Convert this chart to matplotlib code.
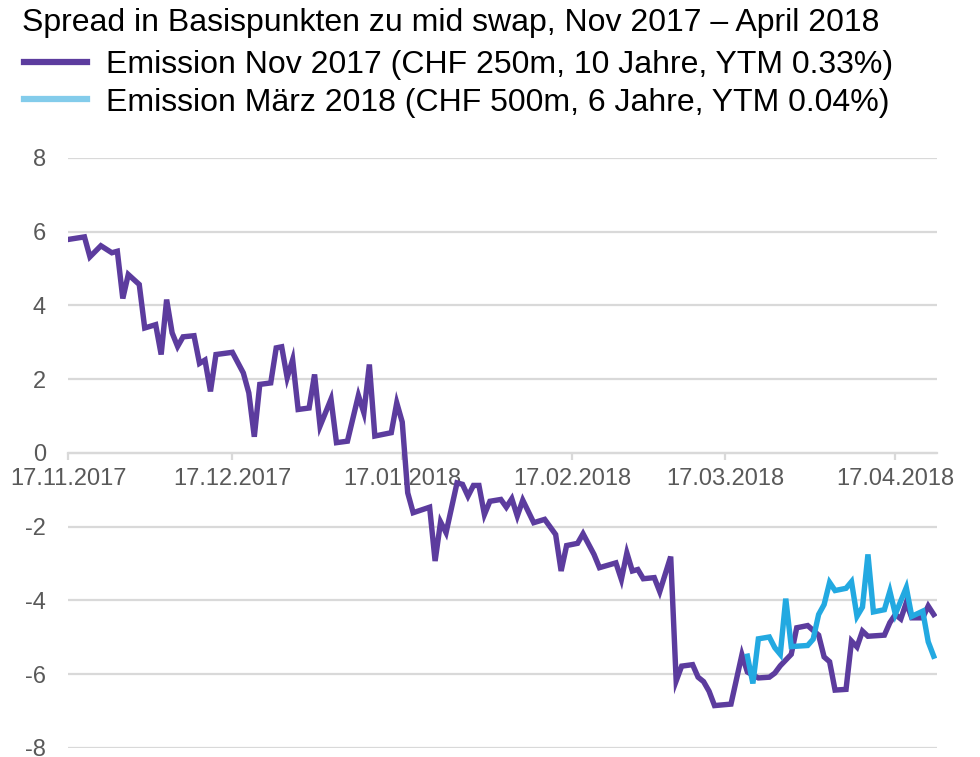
"""
Spread chart: Emission Nov 2017 vs Emission März 2018.
"""

import matplotlib

matplotlib.use("Agg")

import matplotlib.dates as mdates
import matplotlib.pyplot as plt
import pandas as pd
from matplotlib.lines import Line2D

plt.rcParams["font.family"] = ["Liberation Sans", "DejaVu Sans"]
plt.rcParams["axes.unicode_minus"] = False

START = pd.Timestamp("2017-11-17")

# days after 17.11.2017 and spread in bp
nov17_days = [
    0, 3, 4, 6, 8, 9, 10, 11, 13, 14, 16, 17, 18, 19, 20, 21, 23, 24, 25, 26,
    27, 30, 32, 33, 34, 35, 37, 38, 39, 40, 41, 42, 44, 45, 46, 48, 49, 51,
    53, 54, 55, 56, 59, 60, 61, 62, 63, 66, 67, 68, 69, 71, 72, 73, 74, 75,
    76, 77, 79, 80, 81, 82, 83, 85, 87, 89, 90, 91, 93, 94, 96, 97, 100,
    101, 102, 103, 104, 105, 107, 108, 110, 111, 112, 114, 115, 116, 117,
    118, 121, 123, 124, 126, 128, 129, 130, 132, 133, 135, 137, 138, 139,
    140, 142, 143, 144, 145, 146, 149, 150, 151, 152, 153, 154, 156, 157,
    158,
]
nov17_spread = [
    5.79, 5.86, 5.32, 5.62, 5.43, 5.47, 4.19, 4.84, 4.57, 3.39, 3.48, 2.67,
    4.16, 3.26, 2.89, 3.15, 3.18, 2.43, 2.52, 1.67, 2.67, 2.73, 2.17, 1.63,
    0.44, 1.86, 1.90, 2.85, 2.88, 2.04, 2.53, 1.18, 1.22, 2.13, 0.73, 1.46,
    0.28, 0.32, 1.56, 1.09, 2.40, 0.46, 0.55, 1.36, 0.84, -1.08, -1.62,
    -1.47, -2.93, -1.87, -2.16, -0.81, -0.85, -1.17, -0.88, -0.88, -1.67,
    -1.31, -1.26, -1.47, -1.24, -1.71, -1.28, -1.89, -1.80, -2.21, -3.20,
    -2.51, -2.45, -2.19, -2.75, -3.11, -2.98, -3.43, -2.71, -3.20, -3.16,
    -3.41, -3.38, -3.76, -2.81, -6.18, -5.78, -5.74, -6.08, -6.20, -6.46,
    -6.85, -6.81, -5.47, -5.94, -6.10, -6.08, -5.97, -5.77, -5.46, -4.74,
    -4.68, -4.94, -5.53, -5.66, -6.43, -6.41, -5.10, -5.26, -4.83, -4.97,
    -4.94, -4.60, -4.38, -4.50, -4.06, -4.47, -4.47, -4.15, -4.38,
]

mar18_days = [
    124, 125, 126, 128, 129, 130, 131, 132, 135, 136, 137, 138, 139, 140,
    142, 143, 144, 145, 146, 147, 149, 150, 151, 153, 154, 156, 157, 158,
]
mar18_spread = [
    -5.51, -6.25, -5.04, -4.99, -5.28, -5.46, -3.95, -5.25, -5.22, -5.05,
    -4.38, -4.11, -3.51, -3.73, -3.67, -3.49, -4.43, -4.18, -2.75, -4.31,
    -4.25, -3.75, -4.37, -3.65, -4.43, -4.29, -5.12, -5.51,
]

tick_dates = ["2017-11-17", "2017-12-17", "2018-01-17", "2018-02-17",
              "2018-03-17", "2018-04-17"]
y_ticks = [-8, -6, -4, -2, 0, 2, 4, 6, 8]

title = "Spread in Basispunkten zu mid swap, Nov 2017 \u2013 April 2018"
label_nov = "Emission Nov 2017 (CHF 250m, 10 Jahre, YTM 0.33%)"
label_mar = "Emission M\u00e4rz 2018 (CHF 500m, 6 Jahre, YTM 0.04%)"

PURPLE = "#5C3C9E"
BLUE = "#23A9E1"
BLUE_LEGEND = "#83CCEB"
GRID = "#D9D9D9"
TICK_TEXT = "#595959"

nov17_dates = START + pd.to_timedelta(nov17_days, unit="D")
mar18_dates = START + pd.to_timedelta(mar18_days, unit="D")

fig = plt.figure(figsize=(9.8, 7.57), dpi=100)
ax = fig.add_axes([0.0694, 0.0119, 0.8867, 0.7794])

ax.plot(nov17_dates, nov17_spread, color=PURPLE, linewidth=3.9,
        solid_joinstyle="miter", zorder=3)
ax.plot(mar18_dates, mar18_spread, color=BLUE, linewidth=3.9,
        solid_joinstyle="miter", zorder=4)

ax.set_xlim(START, START + pd.Timedelta(days=158.6))
ax.set_ylim(-8, 8)
ax.set_yticks(y_ticks)
ax.set_yticklabels([str(v) for v in y_ticks])
ax.set_xticks(pd.to_datetime(tick_dates))
ax.xaxis.set_major_formatter(mdates.DateFormatter("%d.%m.%Y"))

ax.set_axisbelow(True)
ax.grid(axis="y", color=GRID, linewidth=1.6)

for side in ["top", "right", "left"]:
    ax.spines[side].set_visible(False)
ax.spines["bottom"].set_position(("data", 0))
ax.spines["bottom"].set_color(GRID)
ax.spines["bottom"].set_linewidth(1.6)

ax.tick_params(axis="x", colors=GRID, labelcolor=TICK_TEXT, labelsize=17,
               length=5, width=1.6, pad=6)
ax.tick_params(axis="y", length=0, labelcolor=TICK_TEXT, labelsize=17,
               pad=16)

fig.text(0.022, 0.9696, title, fontsize=23, va="center", ha="left")

handles = [
    Line2D([], [], color=PURPLE, linewidth=4.5),
    Line2D([], [], color=BLUE_LEGEND, linewidth=4.5),
]
fig.legend(
    handles,
    [label_nov, label_mar],
    loc="upper left",
    bbox_to_anchor=(0.002, 0.9635),
    frameon=False,
    fontsize=23,
    handlelength=1.95,
    handletextpad=0.62,
    labelspacing=0.24,
    borderpad=0.2,
)

fig.savefig("out.png", dpi=100)
